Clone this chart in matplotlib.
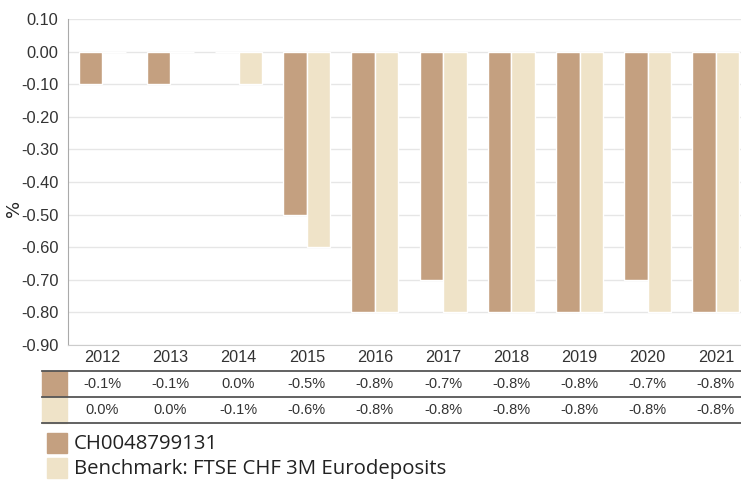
import matplotlib.pyplot as plt
import numpy as np
from matplotlib.transforms import blended_transform_factory
from matplotlib.patches import Rectangle

years = ['2012', '2013', '2014', '2015', '2016', '2017', '2018', '2019', '2020', '2021']
fund = [-0.1, -0.1, 0.0, -0.5, -0.8, -0.7, -0.8, -0.8, -0.7, -0.8]
bench = [0.0, 0.0, -0.1, -0.6, -0.8, -0.8, -0.8, -0.8, -0.8, -0.8]
fund_name = 'CH0048799131'
bench_name = 'Benchmark: FTSE CHF 3M Eurodeposits'

c_fund = '#C4A080'
c_bench = '#EFE3C8'

W, H = 741, 480
fig = plt.figure(figsize=(W / 100, H / 100), dpi=100)
ax = fig.add_axes([68 / W, 1 - 345 / H, (W - 68) / W, (345 - 19) / H])

x = np.arange(len(years))
bw = 0.345
ax.bar(x - bw / 2, fund, bw, color=c_fund, edgecolor='white', linewidth=1, zorder=3)
ax.bar(x + bw / 2, bench, bw, color=c_bench, edgecolor='white', linewidth=1, zorder=3)

yt = np.round(np.arange(-0.9, 0.101, 0.1), 2)
ax.set_ylim(-0.9, 0.1)
ax.set_xlim(-0.5, 9.5 - 9 / 68.2)
ax.set_yticks(yt)
ax.set_yticklabels(['%.2f' % (v + 0.0) for v in yt],
                   fontsize=11.8, color='#333333', family='Liberation Sans')
ax.set_xticks([])
ax.yaxis.grid(True, color='#e6e6e6', linewidth=1, zorder=0)
ax.tick_params(axis='y', length=0, pad=7)
for s in ['top', 'right']:
    ax.spines[s].set_visible(False)
ax.spines['left'].set_color('#aaaaaa')
ax.spines['bottom'].set_color('#cccccc')

def fy(py):
    return 1 - py / H

fig.text(14 / W, fy(208), '%', rotation=90, ha='center', va='center',
         fontsize=13, color='#222222')

# table under the chart
tr = blended_transform_factory(ax.transData, fig.transFigure)
for i, yr in enumerate(years):
    fig.text(x[i], fy(357), yr, transform=tr, ha='center', va='center',
             fontsize=11.7, color='#333333', family='Liberation Sans')
    fig.text(x[i], fy(383.5), '%.1f%%' % fund[i], transform=tr, ha='center', va='center',
             fontsize=10.5, color='#333333', family='Liberation Sans')
    fig.text(x[i], fy(410), '%.1f%%' % bench[i], transform=tr, ha='center', va='center',
             fontsize=10.5, color='#333333', family='Liberation Sans')

fig.patches.append(Rectangle((42 / W, fy(396)), 25 / W, 25 / H, transform=fig.transFigure,
                             color=c_fund, zorder=1))
fig.patches.append(Rectangle((42 / W, fy(423)), 25 / W, 26 / H, transform=fig.transFigure,
                             color=c_bench, zorder=1))
for py in [370.5, 396.5, 423]:
    fig.add_artist(plt.Line2D([42 / W, 1], [fy(py), fy(py)], transform=fig.transFigure,
                              color='#555555', linewidth=1.3))

# legend
fig.patches.append(Rectangle((47 / W, fy(453)), 20 / W, 20 / H, transform=fig.transFigure,
                             color=c_fund))
fig.patches.append(Rectangle((47 / W, fy(478)), 20 / W, 20 / H, transform=fig.transFigure,
                             color=c_bench))
fig.text(74 / W, fy(444), fund_name, ha='left', va='center', fontsize=14.7,
         color='#222222', family='Open Sans')
fig.text(74 / W, fy(469), bench_name, ha='left', va='center', fontsize=14.7,
         color='#222222', family='Open Sans')

fig.savefig('out.png', dpi=100)
